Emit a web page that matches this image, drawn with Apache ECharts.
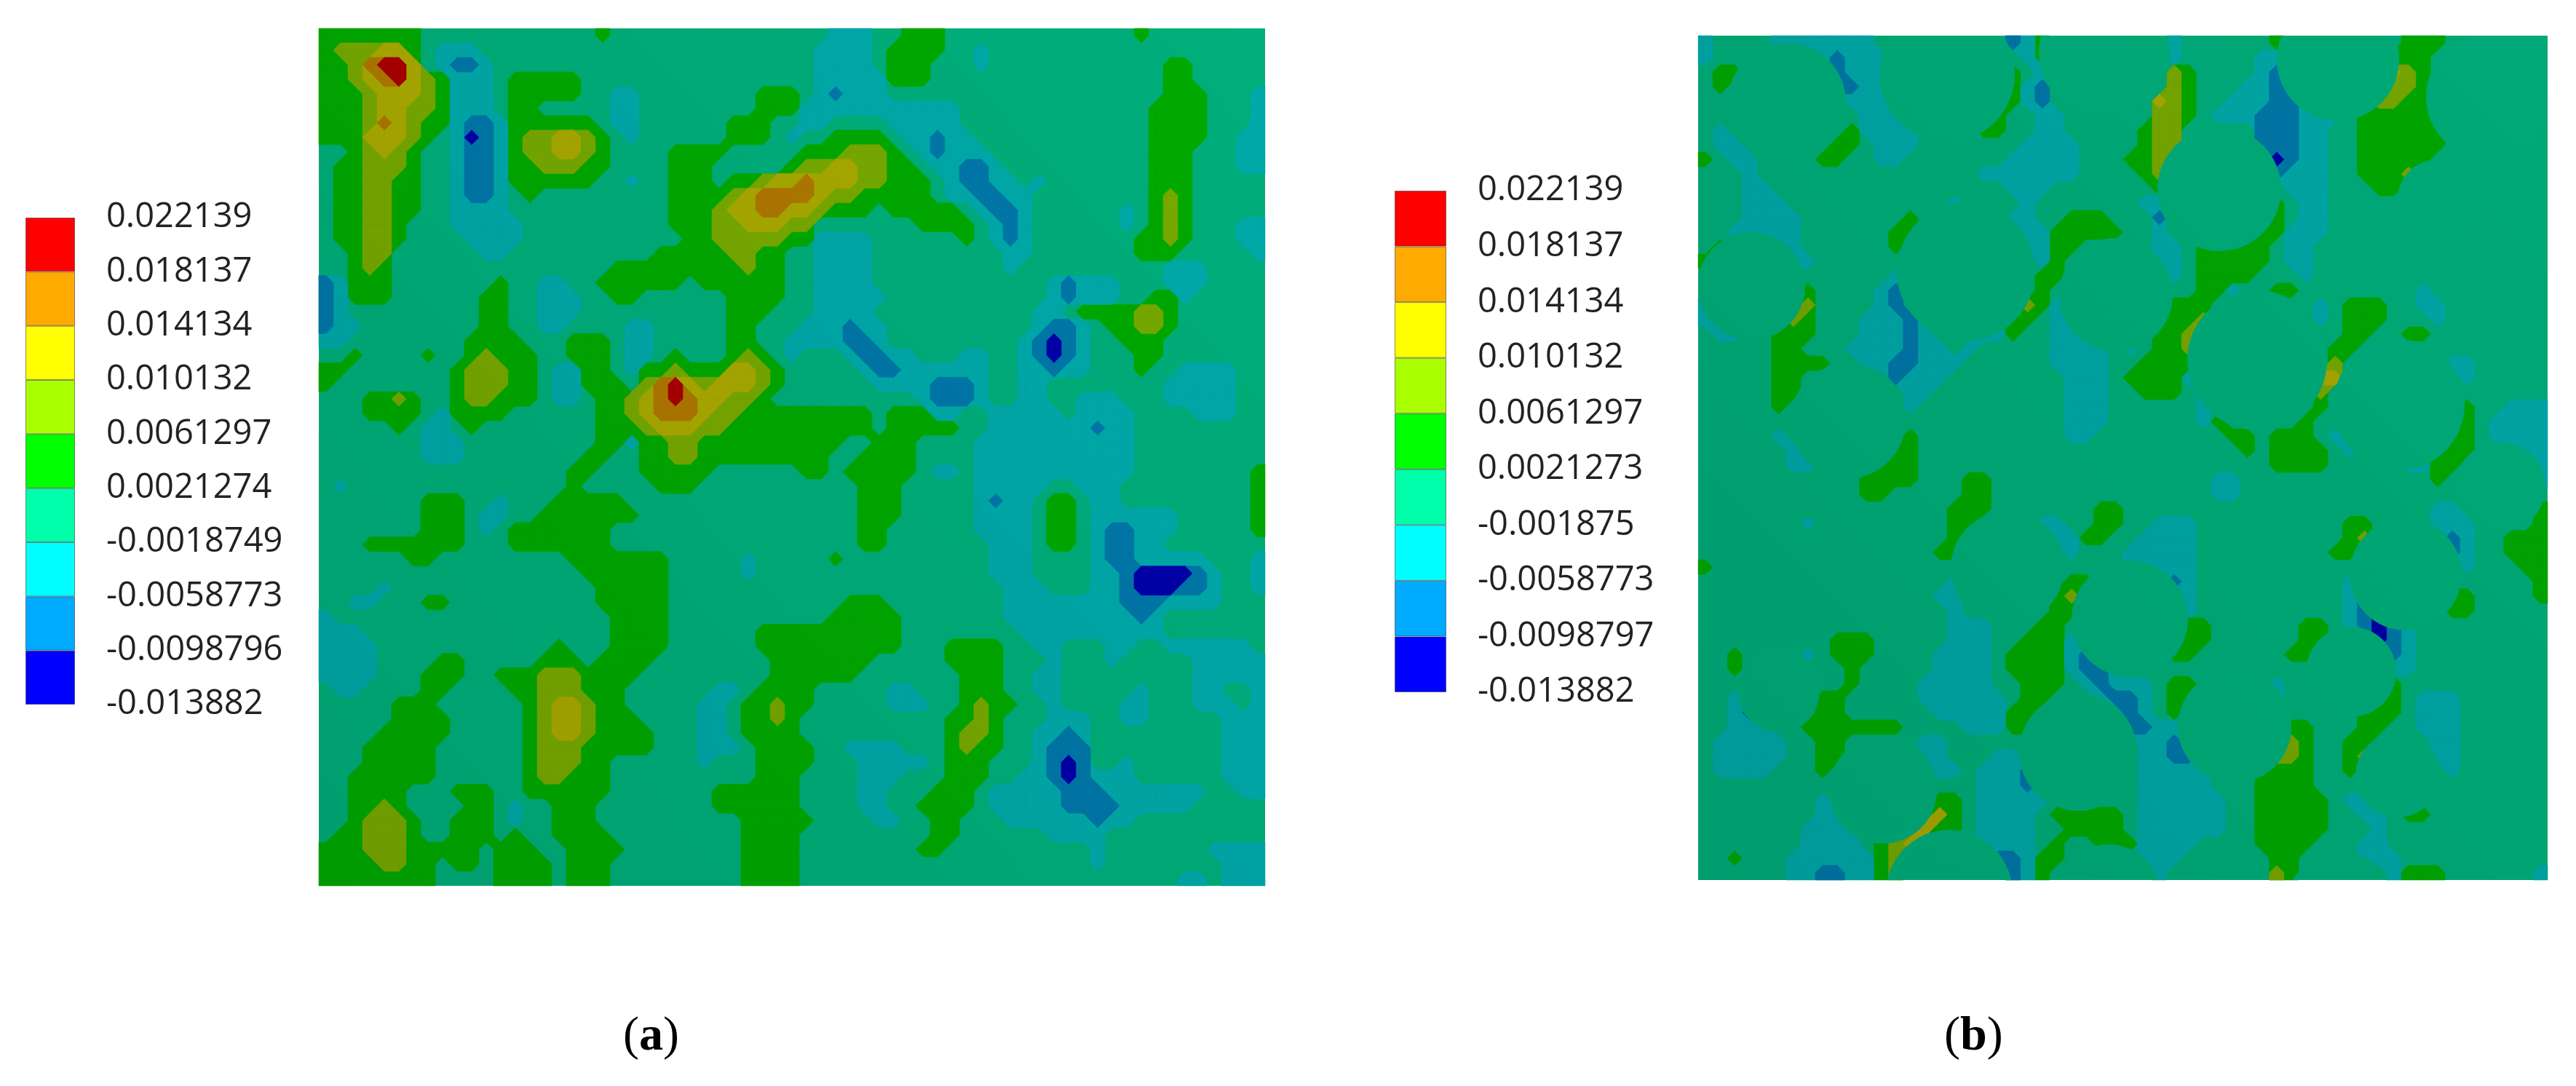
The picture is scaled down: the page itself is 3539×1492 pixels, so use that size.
<!DOCTYPE html>
<html><head><meta charset="utf-8">
<style>html,body{margin:0;padding:0;background:#fff}#c{width:3539px;height:1492px}</style>
<script src="https://cdn.jsdelivr.net/npm/echarts@6/dist/echarts.min.js"></script>
</head><body><div id="c"></div>
<script>
const tickLabelsA = ["0.022139","0.018137","0.014134","0.010132","0.0061297","0.0021274","-0.0018749","-0.0058773","-0.0098796","-0.013882"];
const tickLabelsB = ["0.022139","0.018137","0.014134","0.010132","0.0061297","0.0021273","-0.001875","-0.0058773","-0.0098797","-0.013882"];
const legendColors = ["#ff0000","#ffaa00","#ffff00","#aaff00","#00ff00","#00ffaa","#00ffff","#00aaff","#0000ff"];
const contourColors = {d:"#0000aa",b:"#0078aa",c:"#00aaaa",".":"#00af7b",g:"#00aa00",l:"#78aa00",y:"#aaaa00",o:"#b07800",r:"#aa0000"};
const levelOrder = ["d","b","c",".","g","l","y","o","r"];

// Panel (a): contour band per cell, left half then right half
const panelALeftRows = [
"ggggggg... .........g .......... ...","glllyyg.cc c......... .......... ...","gglorry.cb bc........ .......... ...",
"gglyorylgc cc.ggggg.. .......... ...","ggglyyylgc cc.ggggg.. cc........ ggg","ggglyyllgc cc.gg..... cc........ ggg",
"gggloylggc bbcgggggg. cc......gg g..","gggyyylg.c dbcgllyylg .c......gg g.c","..glylg..c bbcgllyylg ....gggg.. ...",
".gglllg..c bbcgglllgg ....ggg... ..g",".ggllgg..c bbcgggggg. .c..ggg.gg lyy",".ggllgg..c bbc.g..... ....ggggly ooo",
".ggllgg..c ccc....... ....ggglyy ooy",".ggllg...c cccc...... ....ggglly yyl",".ggllg.... cccc...... .....gglll llg",
"..gll..... .cc....... ...gggggll gg.","..glg..... .......... gggggggggl gg.","bcggg..... ..g..cc..g ggggg.gggg gg.",
"bcggg..... .gg..ccc.. gg......gg gg.","bc........ .gg..ccc.. ........gg g..","bcc....... .gg..cc... .cc.....gg ...",
"cc........ gggg...ggg .cc.....gg ..c","..g....g.. glggg..ggg .cc.g...gl g.c","gg.......g lllgg.ccgg .cgglgggyy lg.",
"g........g lllgg.ccgg g.lorylyyy lg.","...gglg..g llggg.cc.g glyoroyyll g..","...gggg.cg ggg......g glyoooyllg ggg",
".....g.cc. g........g gglyyyllgg ggg",".......ccc .........g gcggllgggg ggg",".......ccc ........gg ..ggllgggg ggg",
".......... .......gg. ..ggggg... ...",".c........ .......g.. ...ggg.... ...",".......ggg ..c...gggg g......... ...",
".......ggg .cc..ggggg gg........ ...",".......ggg .c.ggggggg .......... ...","...ggggggg ...ggggggg .......... ...",
"......gg.. .......ggg gggg.....c ...",".......... ........gg gggg.....c ...","....c..... .........g gggg...... ...",
"..cc...gg. .........g gggg...... ...","c......... .......... gggg...... ...","ccc....... .......... gggg...... ggg",
"cccc...... ......g... gggg...... ggg","cccc....gg .....ggg.g ggg....... .gg","cccc...ggg ..ggglllgg gg........ .gg",
".cc....gg. ...gglllgg g......cc. ggg",".....ggg.. ....glyylg g.....cc.g glg",".....gggg. ....glyylg gg....cc.g glg",
"....ggggg. ....glyylg ggg...cc.g ggg","...ggggg.. ....glllgg ggg...ccc. ggg","...ggggg.. ....glllgg ......c... ggg",
"..gggggg.. ....gllggg .......... ggg","..gggg...g gg..gggggg .......ggg ggg","..gglg.... gg.c..ggg. .......ggg ggg",
"..glllg..g gg.c..ggg. .........g ggg",".gglllg..g gg.g..gggg .........g ggg","ggglllgggg g.ggg..ggg g........g ggg",
"ggggllgg.g g.gggg.ggg .........g ggg","gggggggg.. ..gggg.ggg .........g ggg"];
const panelARightRows = [
"..ccc..ggg .......... ...g...... ..",".cccc.gggg ..c....... .......... ..",".cccc.ggg. ..c....... .....gg... ..",
".cccccggg. .......... .....gg... ..",".cbccc.... .......... .....ggg.. .c","cccccccccc c......... ....gggg.. .c",
"cc....cccc c......... ....gggg.. .c","..gggg.ccb cc........ ....gggg.. cc","ggglllg.cb ccc....... ....ggg... cc",
"llyyllgg.c cbbc...... ....ggg... cc","oyyyllggg. cbbcc.c... ....ggg... ..","oyllggggg. ccbbcc.... ....glg... ..",
"ylggg.gggg g.cbbc.... ..c.glg... ..","l.......gg gg.cbc.... ..c.glg... cc","gcccc..... .g.cbc.... ...gglg... cc",
".cccc..... ....cc.... ...ggg.... .c",".cccc..... ....c..... .....ccc.. ..",".cccc..... .......cbc cc...ccc.. ..",
".ccccc.... .......cbc cc..ggc... ..",".cccc..... ......cc.g gggllg.... ..","cccbcc.... ......cbbc .ggllg.... ..",
"cccbbc.... .....cbdbc ..ggg..... ..","...cbbcc.. .cc..cbdbc ...gg..... ..","....cbbccc ccc..ccbcc ...g..cccc ..",
".....ccccb bbc..cc... .....ccccc ..","........cb bbc..cc..c cc...ccccc ..","ggggg.gggc c..ccccc.c ccc....ccc ..",
"ggggg.gggg g..ccccccc bcc....... ..","ggg..ggg.. ..cccccccc ccc....... ..","gg..gggg.. ..cccccccc ccc....... ..",
"gg.ggggg.c c.cccccccc ccc....... .g","....ggg... ..ccccc..c cc........ .g","....ggg... ..cbcc.gg. cc........ .g",
"....ggg... ..cccc.gg. cccccc.... .g","....gg.... ..cccc.gg. cbbccc.... .g","....gg.... ...ccc.gg. cbbcc..... ..",
"..g....... ...ccc.... cbbccccc.. .c",".......... ...ccc.... ccbddddbc. .c",".......... ....ccc... ccbdddbbc. .c",
"...ggg.... ....cccccc ccbbbcccc. ..","..ggggg... ....cccccc cccbc..... ..","ggggggg... .....ccccc ccccc..... ..",
"ggggggg... gggg..cc.. .cc..ccccc c.","ggggg..... gggg...c.. .c.....ccc cc","gggg...... .ggg..cc.. .......ccc cc",
"g.....cc.. .ggg..cc.. ...c...cc. .c","g.....ccc. .glgg..c.. ..cc...ccc .c",".......... gglg...ccc ..cc.....c cc",
".......... gllg..ccbc .........c cc","g..cccc... glgg..cbbb .........c cc","g...ccccc. ggg...cbdb ..c......c cc",
"....ccc... ggg..ccbdb ccc......c cc","....cc...g gg.cccccbb bccccccc.. cc","....cc..gg gg.cccccbb bbccccc... ..",
"g....cc..g g...cccccc bcc....... ..",".........g g......ccc c......... ..","........gg .......... c.......cc cc",
".......... .......... c........c cc",".......... .......... ......cc.c cc"];

// Panel (b): contour band per cell, left part then right part
const panelBLeftRows = [
"c....ccccc cc........ .bcg","c....ccccb ccc....... ..cg",".gg......b ccc....... .g.c",".g.......b bcc....... .gcb",
".......... cccc...... ggcb...... .y",".......... .ccc.....g g..cc..... .l",".c........ gcccc....g g..cc..... gl",".cc......g g.ccc..... ..cccc.... gl",
"g.cc....gg ..cc...... .ccccc...g gl","...c...... .........c cccccc.... gl","...cc..... .......... .ccc...... .g","...ccc.... .......c.. ..c....... cc",
"...cccc... ....g..... .cc..ggg.. .b","..ccccc... ...gg..... ..ccggggg. .c",".g...cc... ...g...... ..ccgg.... .c","g.....cc.. .......... ...cg..... .c",
".......... ...c...... ...gg..... ..",".......g.. ..cb...... ...g...... ..","c......l.. ..cb...... ..lgc..... ..","cc....lg.. .cccb..... .gg.c..... ..",
".cc..ggg.. .cccbc...c cg..ccc... .g",".....gg... ccccbcc.c. ....cccc.c .g",".....gggg. .ccbbccc.. ....cccc.. gg",".....gg... ...bccc... .....ccc.g gg",
".....gg... ....cc.... .....ccc.. gg",".....g.... ....c..... .....ccc.. ..",".......... .......... .....ccc.. ..",".....c.... ....g..... .....cc... ..",
"......c... ...gg..... .......... ..","......cc.. ..ggg..... .......... ..",".......... .gggg...gg .......... ..",".......... .gg.....gg .......... ..",
".......... .......ggg .......gg. ..",".......c.. .......gg. ...cc..gg. .c",".......... .......gl. ....ccgg.. cc",".......... ......gg.. .....c...c cc",
"g......... .......... .........c cc",".......... .......c.. .....gg... ..",".......... ......cc.. ....gl.... ..",".......... .......c.. ....gg.... ..",
".......... .......ccc ...gg..... ..",".........g gg.....ccc ..gggc.... ..","..g....c.g gg....cccc .ggggcb... ..","..g....... g.....cccc .ggggcbb.. ..",
".......... g....ccccc ..ggg.cbcc c.","..c.....gg .....ccccc c.gg...cbb c.","..cb....gg ......cccc cgg.....cb c.","..ccc..ggg gggg....cc cgg......b bc",
".ccccc..gg .....cc... .......... cc",".ccccc..gg .....cc... cc........ cc",".cccc...g. .....bcc.c ccb....... cc",".......... .........c ccb....... cc",
"........c. ......gg.c cccc...... cc","........cc ......yg.c ccc.ggggg. cc",".......ccc c...lygg.c ccc..gggg. cc",".......ccc c.gly....c ccc.g..ggg cc",
"..g...cccc ccgl...... bbcgg..... cc","......ccbb ccgl...... .bcg...... .c"];
const panelBRightRows = [
"c......g.. ......ggg.","c.....cc.. .....ggg..","lg....cb.. .....ylg..","lg...ccbd. .....llg..","lg..cccbb. ....llgg..","lg.cccbbbc cc.gggggg.",
"l.....bbbc c..gggggg.","l.....bbbc c..gggggg.",".......dbc c..ggggg..",".......bcc c..gggl...","........cc c...gg....",".......g.c c.........",
"......gg.c c.........","......ggcc c.........","c.ggggg.cc","c.ggggg.cc","c.gggg...c","..ggc..gg. .......c..",
"ggg....... c.ggg..cc.","ggl....... c.ggg...c.","gl........ ..gg..gg..","gl........ .gg.......","gg........ .l.......c c","gc........ yy........ c",
"g.c....... l","..c....... g......... g..ccc","..cg.....g .........l g.cccc","....gg.ggg .c.......g g.cccc",".....g.ggg g.c.....gg g...cc",".......ggg g.....ccgg ....cc",
"...cc..... ........g. .....c","...cc",".......... ........cc .....g","cc........ ..gg....cc c....g","cc........ ..gl.....b c..ggg","cc........ .gg......b c..ggg",
"cc........ .......... c...gg","bc........ ..c....... .....g",".c........ ..cb.....g g....g",".c........ ..cbd....g g",".gg......g g.cbdbc...",".gg......g g...dbc...",
"gg......gg .....bc...",".......... .....cc...","gg.....c.. .....g....","gg.....c.. ....gg.ccc","g......... ...ggg.ccc","c.......gg ...gg..ccc",
"b.......lg ..gg....cc","bb.....llg ..gl....cc","ccc...gggg ..g......c","ccc...gggg","cccc..gggg g.cc......","cccc..gggg g..cc.gg..",
"cccc..gggg g...c.....","cc....gggg ...cc.....","c......gg. ...ccc....",".......lg. .....cggg. .....c"];

// Panel (b): fibres [x, y, radius] on the panel's own scale
const fiberCircles = [[122,91,81],[342,53,93],[558,23,90],[73,344,74],[368,324,95],[574,356,78],[716,211,85],[206,529,79],
[879,33,84],[1086,84,86],[1017,227,57],[768,446,96],[963,507,90],[972,740,77],[1102,620,62],[897,874,62],[737,949,78],[961,1016,58],
[883,1196,75],[425,731,78],[593,801,80],[522,984,81],[111,901,56],[254,1036,74],[345,1178,87],[564,1183,72]];

const joinRows = (L, R, wl, wr) => L.map((s, i) => s.replace(/\s/g,'').padEnd(wl,'.').slice(0,wl) + R[i].replace(/\s/g,'').padEnd(wr,'.').slice(0,wr));
const rowsA = joinRows(panelALeftRows, panelARightRows, 33, 32);
const rowsB = joinRows(panelBLeftRows, panelBRightRows, 32, 26);

// Contour bands nested outward from the base band; one mask per band edge
const BASE = levelOrder.indexOf('.');
const bandSteps = [];
for (let t=BASE+1;t<levelOrder.length;t++) bandSteps.push({key:levelOrder[t], test:l=>l>=t});
for (let t=BASE-1;t>=0;t--) bandSteps.push({key:levelOrder[t], test:l=>l<=t});

function contourCells(rows){
  const H=rows.length, W=rows[0].length, out=[];
  const lev=(x,y)=>levelOrder.indexOf(rows[Math.max(0,Math.min(H-1,y))][Math.max(0,Math.min(W-1,x))]);
  bandSteps.forEach((step,si)=>{
    for(let y=-1;y<H;y++) for(let x=-1;x<W;x++){
      const code=(step.test(lev(x,y))?1:0)|(step.test(lev(x+1,y))?2:0)|(step.test(lev(x+1,y+1))?4:0)|(step.test(lev(x,y+1))?8:0);
      if(code) out.push([x,y,code,si]);
    }
  });
  return out;
}
function contourItem(p,api){
  const x=api.value(0), y=api.value(1), code=api.value(2), key=bandSteps[api.value(3)].key;
  const cx=[x+.5,x+1.5], cy=[y+.5,y+1.5], mx=x+1, my=y+1;
  const on=[code&1,code&2,code&4,code&8];
  const walk=[];
  if(on[0]) walk.push([cx[0],cy[0]]);
  if(!on[0]!==!on[1]) walk.push([mx,cy[0]]);
  if(on[1]) walk.push([cx[1],cy[0]]);
  if(!on[1]!==!on[2]) walk.push([cx[1],my]);
  if(on[2]) walk.push([cx[1],cy[1]]);
  if(!on[2]!==!on[3]) walk.push([mx,cy[1]]);
  if(on[3]) walk.push([cx[0],cy[1]]);
  if(!on[3]!==!on[0]) walk.push([cx[0],my]);
  const col=contourColors[key], r=p.coordSys;
  const pts=walk.map(q=>{const c=api.coord(q);return [Math.max(r.x,Math.min(r.x+r.width,c[0])),Math.max(r.y,Math.min(r.y+r.height,c[1]))];});
  return {type:'polygon',shape:{points:pts},style:{fill:col,stroke:col,lineWidth:.6}};
}

const PA = {left:438, top:39, width:1300, height:1178, show:true, backgroundColor:contourColors['.'], borderWidth:0};
const PB = {left:2333, top:49, width:1167, height:1160, show:true, backgroundColor:contourColors['.'], borderWidth:0};
const PC = {left:2333, top:49, width:1167, height:1160};
const LA = {left:35, top:299, width:68, height:669};
const LB = {left:1916, top:262, width:71, height:689};
const hidden = {show:false};

function legendAxes(grid, labels){
  return {
    x:{type:'category', data:['k'], gridIndex:grid, axisLine:hidden, axisTick:hidden, axisLabel:hidden},
    y:{type:'value', gridIndex:grid, min:0, max:9, interval:1, inverse:true, position:'right',
       axisLine:hidden, axisTick:hidden, splitLine:hidden,
       axisLabel:{show:true, margin:43, color:'#222', fontFamily:'Open Sans', fontSize:47, align:'left', formatter:(v)=>labels[v]}}
  };
}
function legendBars(grid, tag){
  return legendColors.map((col,i)=>({type:'bar', name:tag+i, xAxisIndex:grid, yAxisIndex:grid, stack:tag, barWidth:'100%', data:[1], silent:true,
    itemStyle:{color:col, borderColor:'rgba(50,50,50,.55)', borderWidth:1}}));
}
const la = legendAxes(3, tickLabelsA), lb = legendAxes(4, tickLabelsB);
const capRich = {p:{fontFamily:'Liberation Serif',fontSize:66,fontWeight:'normal',color:'#000'},b:{fontFamily:'Liberation Serif',fontSize:66,fontWeight:'bold',color:'#000'}};

const option = {
  animation:false, backgroundColor:'#fff',
  title:[
    {text:'{p|(}{b|a}{p|)}', left:851, top:1387, textStyle:{rich:capRich}},
    {text:'{p|(}{b|b}{p|)}', left:2666, top:1387, textStyle:{rich:capRich}}
  ],
  grid:[PA,PB,PC,LA,LB],
  xAxis:[{type:'value',gridIndex:0,min:0,max:rowsA[0].length,show:false},
    {type:'value',gridIndex:1,min:0,max:rowsB[0].length,show:false},
    {type:'value',gridIndex:2,min:0,max:1167,show:false}, la.x, lb.x],
  yAxis:[{type:'value',gridIndex:0,min:0,max:rowsA.length,inverse:true,show:false},
    {type:'value',gridIndex:1,min:0,max:rowsB.length,inverse:true,show:false},
    {type:'value',gridIndex:2,min:0,max:1160,inverse:true,show:false}, la.y, lb.y],
  series:[
    {type:'custom', xAxisIndex:0, yAxisIndex:0, data:contourCells(rowsA), silent:true, renderItem:contourItem, encode:{x:0,y:1}},
    {type:'custom', xAxisIndex:1, yAxisIndex:1, data:contourCells(rowsB), silent:true, renderItem:contourItem, encode:{x:0,y:1}},
    {type:'custom', xAxisIndex:2, yAxisIndex:2, data:fiberCircles, clip:true, silent:true, z:5, encode:{x:0,y:1},
     renderItem:(p,api)=>{const c=api.coord([api.value(0),api.value(1)]);const s=api.size([api.value(2),api.value(2)]);
       return {type:'circle',shape:{cx:c[0],cy:c[1],r:Math.abs(s[0])},style:{fill:contourColors['.']}};}},
    ...legendBars(3,'a'), ...legendBars(4,'b')
  ],
  graphic:[
    {type:'rect', z:100, silent:true, left:PA.left, top:PA.top, shape:{width:PA.width,height:PA.height},
     style:{fill:new echarts.graphic.LinearGradient(1,0,0,1,[{offset:0,color:'rgba(0,0,0,0)'},{offset:1,color:'rgba(0,0,0,.09)'}])}},
    {type:'rect', z:100, silent:true, left:PB.left, top:PB.top, shape:{width:PB.width,height:PB.height},
     style:{fill:new echarts.graphic.LinearGradient(1,0,0,1,[{offset:0,color:'rgba(0,0,0,.03)'},{offset:1,color:'rgba(0,0,0,.1)'}])}}
  ]
};
echarts.init(document.getElementById('c')).setOption(option);
</script></body></html>
